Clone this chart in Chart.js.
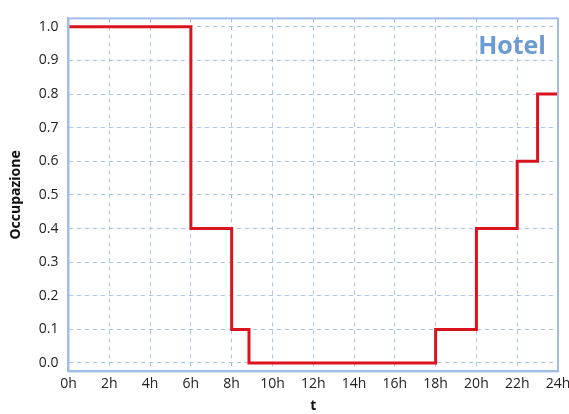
<!DOCTYPE html>
<html>
<head>
<meta charset="utf-8">
<script src="https://cdn.jsdelivr.net/npm/chart.js@4/dist/chart.umd.min.js"></script>
<style>
    html, body { margin: 0; padding: 0; background: #fff; }
    #wrap { width: 569px; height: 414px; }
</style>
</head>
<body>
<div id="wrap"><canvas id="occChart"></canvas></div>
<script>
// hour at which each level starts, and the occupancy level
const hours = [0, 6, 8, 8.85, 18, 20, 22, 23, 24];
const occupancy = [1.0, 0.4, 0.1, 0.0, 0.1, 0.4, 0.6, 0.8, 0.8];
const yTicks = [0, 0.1, 0.2, 0.3, 0.4, 0.5, 0.6, 0.7, 0.8, 0.9, 1.0];
const chartTitle = "Hotel";

const gridColor = "#a9c4ec";
const borderColor = "#a0bde8";

const frame = {
    id: "frame",
    afterDraw(chart) {
        const { ctx, chartArea: a } = chart;
        ctx.save();
        ctx.strokeStyle = borderColor;
        ctx.lineWidth = 2;
        ctx.strokeRect(a.left, a.top, a.right - a.left, a.bottom - a.top);
        ctx.font = "bold 25px 'Open Sans'";
        ctx.fillStyle = "#6a9bd3";
        ctx.textAlign = "right";
        ctx.textBaseline = "middle";
        ctx.fillText(chartTitle, a.right - 12, a.top + 28);
        ctx.restore();
    }
};

const ctx = document.querySelector("#occChart").getContext("2d");
new Chart(ctx, {
    type: "line",
    data: {
        datasets: [{
            data: hours.map((h, i) => ({ x: h, y: occupancy[i] })),
            borderColor: "#d9141e",
            borderWidth: 3,
            pointRadius: 0,
            stepped: "before",
            fill: false
        }]
    },
    options: {
        responsive: true,
        maintainAspectRatio: false,
        animation: false,
        layout: { padding: { top: 18, right: 0, left: 8, bottom: 0 } },
        plugins: { legend: { display: false }, tooltip: { enabled: false } },
        scales: {
            x: {
                type: "linear",
                min: 0,
                max: 24,
                afterFit: s => { s.paddingRight = 11; },
                ticks: {
                    stepSize: 2,
                    color: "#222",
                    font: { family: "Open Sans", size: 14 },
                    padding: 4,
                    callback: v => v + "h"
                },
                grid: { color: gridColor, drawTicks: false, borderDash: [4, 4] },
                border: { display: true, color: borderColor, width: 2, dash: [4, 4] },
                title: { display: true, text: "t", color: "#111", font: { family: "Open Sans", size: 14, weight: "bold" }, padding: { top: 1, bottom: 0 } }
            },
            y: {
                min: -0.025,
                max: 1.025,
                afterBuildTicks: s => { s.ticks = yTicks.map(v => ({ value: v })); },
                ticks: {
                    color: "#222",
                    font: { family: "Open Sans", size: 14 },
                    padding: 10,
                    callback: v => v.toFixed(1)
                },
                grid: { color: gridColor, drawTicks: false, borderDash: [4, 4] },
                border: { display: true, color: borderColor, width: 2, dash: [4, 4] },
                title: { display: true, text: "Occupazione", color: "#111", font: { family: "Open Sans", size: 14, weight: "bold" }, padding: { top: 0, bottom: 4 } }
            }
        }
    },
    plugins: [frame]
});
</script>
</body>
</html>
